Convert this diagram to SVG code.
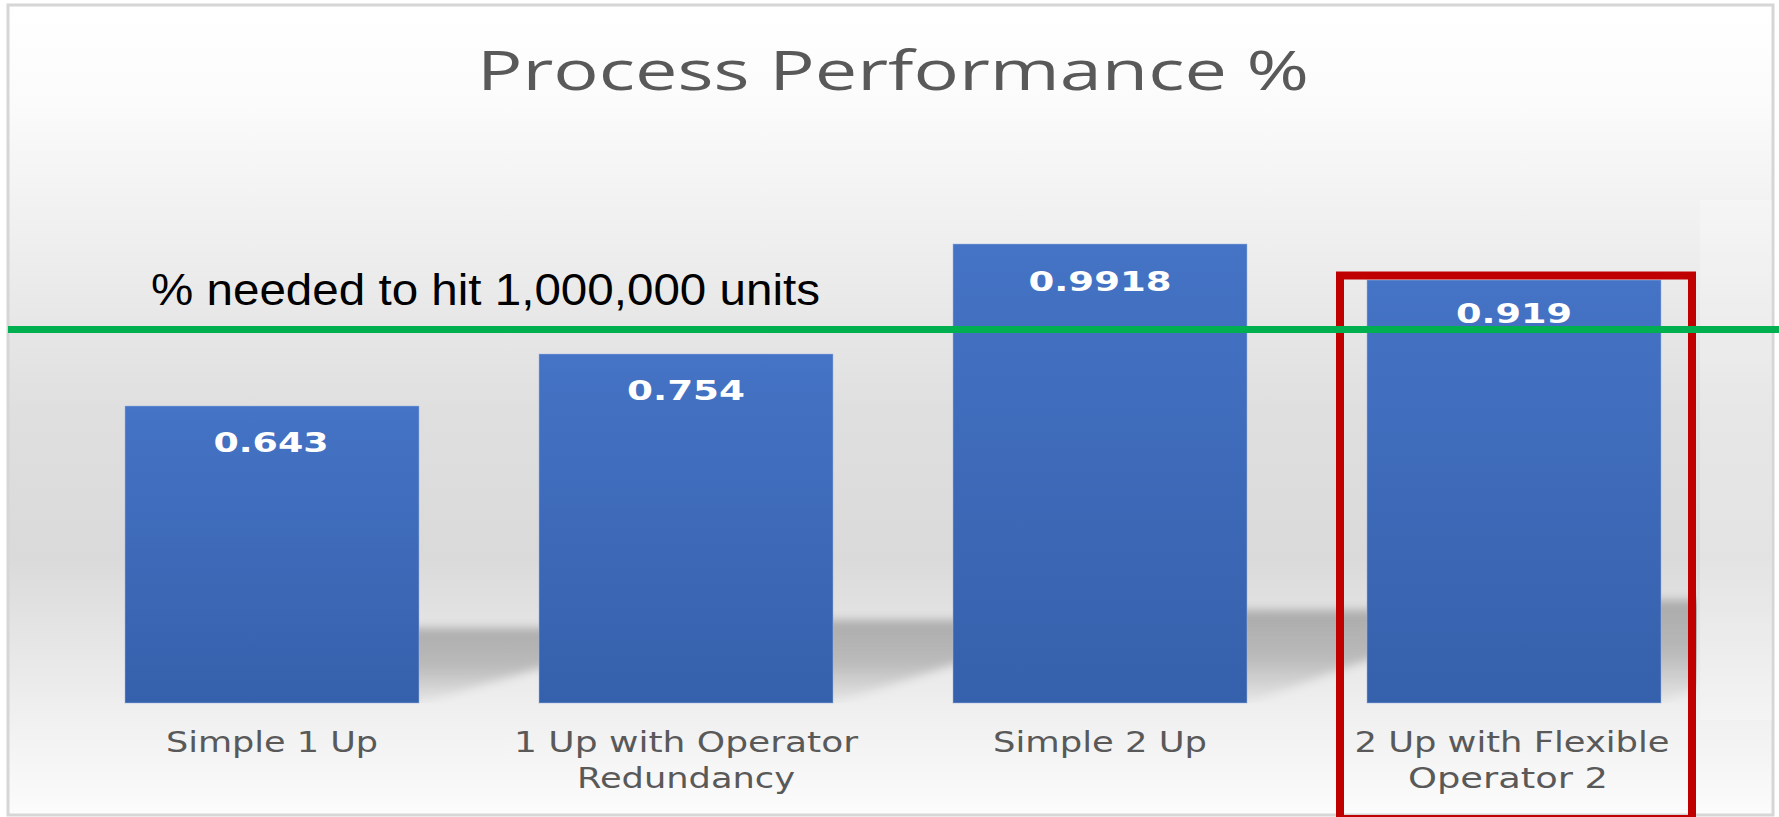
<svg xmlns="http://www.w3.org/2000/svg" width="1779" height="817" viewBox="0 0 1779 817">
  <defs>
    <!-- chart area background: white at the top, grey band behind the bars, white at the foot -->
    <linearGradient id="bgGrad" x1="0" y1="0" x2="0" y2="1">
      <stop offset="0" stop-color="#ffffff"/>
      <stop offset="0.12" stop-color="#fbfbfb"/>
      <stop offset="0.30" stop-color="#eeeeee"/>
      <stop offset="0.50" stop-color="#dfdfdf"/>
      <stop offset="0.68" stop-color="#dadada"/>
      <stop offset="0.86" stop-color="#eeeeee"/>
      <stop offset="1" stop-color="#fcfcfc"/>
    </linearGradient>
    <!-- bar fill -->
    <linearGradient id="barGrad" x1="0" y1="0" x2="0" y2="1">
      <stop offset="0" stop-color="#4573c5"/>
      <stop offset="1" stop-color="#3560ab"/>
    </linearGradient>
    <!-- soft cast shadow of each bar, fading towards the base -->
    <linearGradient id="shadowGrad" x1="0" y1="0" x2="0" y2="1">
      <stop offset="0" stop-color="#000" stop-opacity="0.24"/>
      <stop offset="0.5" stop-color="#000" stop-opacity="0.2"/>
      <stop offset="1" stop-color="#000" stop-opacity="0.03"/>
    </linearGradient>
    <filter id="soft" x="-20%" y="-50%" width="140%" height="200%">
      <feGaussianBlur stdDeviation="5"/>
    </filter>
    <clipPath id="plotClip">
      <rect x="10" y="200" width="1687" height="503"/>
    </clipPath>
    <style>
      .bar { fill: url(#barGrad); stroke: #9fb7e6; stroke-width: 1; stroke-opacity: 0.5; }
      .val { font-family: "DejaVu Sans", Verdana, sans-serif; font-weight: bold; font-size: 27px; fill: #ffffff; text-anchor: middle; }
      .cat { font-family: "DejaVu Sans", Verdana, sans-serif; font-size: 28px; fill: #595959; text-anchor: middle; }
      .title { font-family: "Open Sans", "Liberation Sans", sans-serif; font-size: 54px; fill: #595959; text-anchor: start; }
      .note { font-family: "Liberation Sans", Arial, sans-serif; font-size: 45px; fill: #000000; }
      .shadow { fill: url(#shadowGrad); filter: url(#soft); }
    </style>
  </defs>

  <!-- page -->
  <rect x="0" y="0" width="1779" height="817" fill="#ffffff"/>
  <!-- chart area -->
  <rect x="8" y="5" width="1765" height="810" fill="url(#bgGrad)" stroke="#d6d6d6" stroke-width="3"/>
  <rect x="1700" y="200" width="72" height="520" fill="#ffffff" opacity="0.25"/>

  <!-- title -->
  <g id="title">
    <text class="title" x="477" y="90" textLength="832" lengthAdjust="spacingAndGlyphs">Process Performance %</text>
  </g>

  <!-- bar shadows -->
  <g id="shadows" clip-path="url(#plotClip)">
    <polygon class="shadow" points="125,703 419,703 679,628 385,628"/>
    <polygon class="shadow" points="539,703 833,703 1093,620 799,620"/>
    <polygon class="shadow" points="953,703 1247,703 1507,610 1213,610"/>
    <polygon class="shadow" points="1367,703 1661,703 1921,600 1627,600"/>
  </g>

  <!-- bars -->
  <g id="bar-simple-1-up">
    <rect class="bar" x="125" y="406" width="294" height="297"/>
    <text class="val" x="271" y="452" textLength="115" lengthAdjust="spacingAndGlyphs">0.643</text>
    <text class="cat" x="272" y="752" textLength="212" lengthAdjust="spacingAndGlyphs">Simple 1 Up</text>
  </g>
  <g id="bar-1-up-operator-redundancy">
    <rect class="bar" x="539" y="354" width="294" height="349"/>
    <text class="val" x="686" y="400" textLength="118" lengthAdjust="spacingAndGlyphs">0.754</text>
    <text class="cat" x="686" y="752" textLength="344" lengthAdjust="spacingAndGlyphs">1 Up with Operator</text>
    <text class="cat" x="686" y="788" textLength="218" lengthAdjust="spacingAndGlyphs">Redundancy</text>
  </g>
  <g id="bar-simple-2-up">
    <rect class="bar" x="953" y="244" width="294" height="459"/>
    <text class="val" x="1100" y="291" textLength="143" lengthAdjust="spacingAndGlyphs">0.9918</text>
    <text class="cat" x="1100" y="752" textLength="214" lengthAdjust="spacingAndGlyphs">Simple 2 Up</text>
  </g>
  <g id="bar-2-up-flexible-operator">
    <rect class="bar" x="1367" y="280" width="294" height="423"/>
    <text class="val" x="1514" y="323" textLength="116" lengthAdjust="spacingAndGlyphs">0.919</text>
    <text class="cat" x="1512" y="752" textLength="315" lengthAdjust="spacingAndGlyphs">2 Up with Flexible</text>
    <text class="cat" x="1508" y="788" textLength="200" lengthAdjust="spacingAndGlyphs">Operator 2</text>
  </g>

  <!-- highlight box around the last bar -->
  <g id="highlight">
    <rect x="1340" y="275.5" width="352" height="543.5" fill="none" stroke="#c00000" stroke-width="8"/>
  </g>

  <!-- target line and its label -->
  <g id="connectors">
    <line x1="8" y1="329.5" x2="1779" y2="329.5" stroke="#00b050" stroke-width="7"/>
  </g>
  <g id="target-label">
    <text class="note" x="151" y="305" textLength="669" lengthAdjust="spacingAndGlyphs">% needed to hit 1,000,000 units</text>
  </g>
</svg>
